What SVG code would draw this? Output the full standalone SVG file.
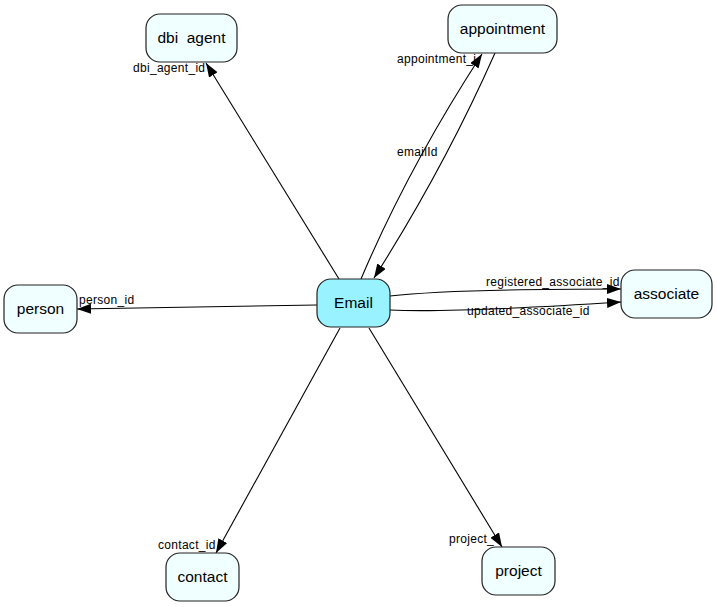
<svg xmlns="http://www.w3.org/2000/svg" width="717" height="607" viewBox="0 0 717 607">
<style>
.n rect{fill:#f0ffff;stroke:#222;stroke-width:1.2}
#Email rect{fill:#99f2ff}
.n text{font-family:"Liberation Sans",Arial,sans-serif;font-size:15.5px;text-anchor:middle;fill:#000}
.e path{fill:none;stroke:#000;stroke-width:1.1}
.lbl{font-family:"Liberation Sans",Arial,sans-serif;font-size:12px;letter-spacing:0.3px;fill:#000}
</style>
<defs>
<marker id="ah" markerUnits="userSpaceOnUse" markerWidth="15" markerHeight="11" refX="14" refY="5" orient="auto">
<path d="M0,0 L14,5 L0,10 z" fill="#000"/>
</marker>
</defs>
<rect width="717" height="607" fill="#fff"/>
<g id="labels">
<text class="lbl" x="133" y="72">dbi_agent_id</text>
<text class="lbl" x="397" y="63">appointment_i</text>
<text class="lbl" x="397" y="156">emailId</text>
<text class="lbl" x="486" y="286">registered_associate_id</text>
<text class="lbl" x="467" y="315">updated_associate_id</text>
<text class="lbl" x="79" y="304">person_id</text>
<text class="lbl" x="158" y="549">contact_id</text>
<text class="lbl" x="449" y="543">project_</text>
</g>
<g id="connectors" class="e">
<path d="M339,279 L206,63" marker-end="url(#ah)"/>
<path d="M361,279 Q408,168 482,54" marker-end="url(#ah)"/>
<path d="M495,53 Q444,168 374,278" marker-end="url(#ah)"/>
<path d="M390,296 Q450,289 621,289" marker-end="url(#ah)"/>
<path d="M390,310 Q450,313 621,302" marker-end="url(#ah)"/>
<path d="M317,305 L77,309" marker-end="url(#ah)"/>
<path d="M340,328 L216,553" marker-end="url(#ah)"/>
<path d="M369,328 L502,547" marker-end="url(#ah)"/>
</g>
<g id="dbi_agent" class="n"><rect x="146" y="14" width="91" height="48" rx="14"/><text x="191.5" y="43">dbi&#160; agent</text></g>
<g id="appointment" class="n"><rect x="448" y="5" width="109" height="48" rx="14"/><text x="502.5" y="34">appointment</text></g>
<g id="associate" class="n"><rect x="621" y="270" width="91" height="48" rx="14"/><text x="666.5" y="299">associate</text></g>
<g id="Email" class="n"><rect x="317" y="279" width="73" height="48" rx="14"/><text x="353.5" y="308">Email</text></g>
<g id="person" class="n"><rect x="4" y="285" width="73" height="48" rx="14"/><text x="40.5" y="314">person</text></g>
<g id="contact" class="n"><rect x="166" y="553" width="73" height="48" rx="14"/><text x="202.5" y="582">contact</text></g>
<g id="project" class="n"><rect x="482" y="547" width="73" height="48" rx="14"/><text x="518.5" y="576">project</text></g>
</svg>
